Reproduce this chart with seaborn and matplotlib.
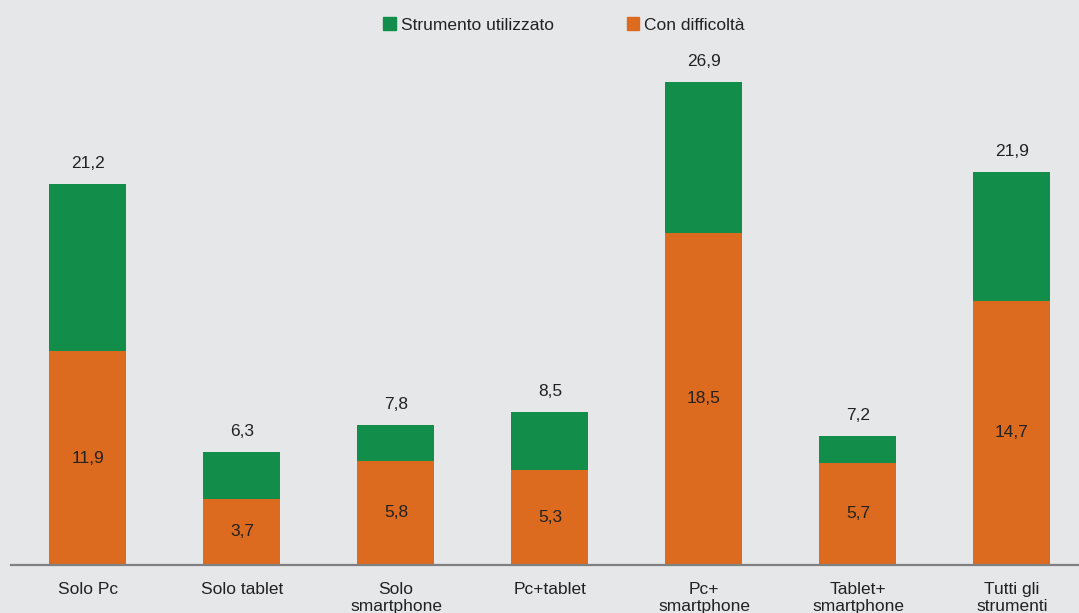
import matplotlib
matplotlib.use("Agg")
import matplotlib.pyplot as plt
import seaborn as sns
import pandas as pd
from matplotlib.patches import Patch

categories = ["Solo Pc", "Solo tablet", "Solo\nsmartphone", "Pc+tablet",
              "Pc+\nsmartphone", "Tablet+\nsmartphone", "Tutti gli\nstrumenti"]
strumento_utilizzato = [21.2, 6.3, 7.8, 8.5, 26.9, 7.2, 21.9]
con_difficolta = [11.9, 3.7, 5.8, 5.3, 18.5, 5.7, 14.7]

GREEN = "#128e4a"
ORANGE = "#dc6a1f"
BG = "#e6e7e9"
TXT = "#222222"

sns.set_theme(style="white")
plt.rcParams["font.family"] = ["Liberation Sans", "DejaVu Sans"]

df = pd.DataFrame({"cat": categories, "tot": strumento_utilizzato, "diff": con_difficolta})

fig = plt.figure(figsize=(10.79, 6.13), dpi=100, facecolor=BG)
ax = fig.add_axes([11/1079, 48/613, 1078/1079, 565/613])
ax.set_facecolor(BG)

sns.barplot(data=df, x="cat", y="tot", color=GREEN, width=0.5, ax=ax,
            linewidth=0, saturation=1)
sns.barplot(data=df, x="cat", y="diff", color=ORANGE, width=0.5, ax=ax,
            linewidth=0, saturation=1)

ax.set_xlim(-0.5, 6.5)
ax.set_ylim(0, 31.46)
ax.set_xlabel("")
ax.set_ylabel("")
ax.set_yticks([])

for i, (t, d) in enumerate(zip(strumento_utilizzato, con_difficolta)):
    ax.text(i, t + 1.15, f"{t:.1f}".replace(".", ","), ha="center", va="center",
            fontsize=12.5, color=TXT)
    ax.text(i, d / 2, f"{d:.1f}".replace(".", ","), ha="center", va="center",
            fontsize=12.5, color=TXT)

for s in ["top", "right", "left"]:
    ax.spines[s].set_visible(False)
ax.spines["bottom"].set_color("#808080")
ax.spines["bottom"].set_linewidth(1.6)

ax.set_xticks(range(len(categories)))
ax.set_xticklabels(categories, fontsize=12.5, color=TXT, linespacing=1.2)
ax.tick_params(axis="x", which="major", length=0, pad=12)
ax.set_xticks([i - 0.5 for i in range(len(categories) + 1)], minor=True)
ax.tick_params(axis="x", which="minor", length=6, width=1.6, color="#808080", direction="out")

handles = [Patch(color=GREEN, label="Strumento utilizzato"),
           Patch(color=ORANGE, label="Con difficoltà")]
fig.legend(handles=handles, loc="center", bbox_to_anchor=(564/1079, 1 - 25/613), ncol=2,
           frameon=False, fontsize=12.5, handlelength=0.7, handleheight=0.7,
           handletextpad=0.3, columnspacing=4.2, labelcolor=TXT)

fig.savefig("out.png", dpi=100, facecolor=BG)
